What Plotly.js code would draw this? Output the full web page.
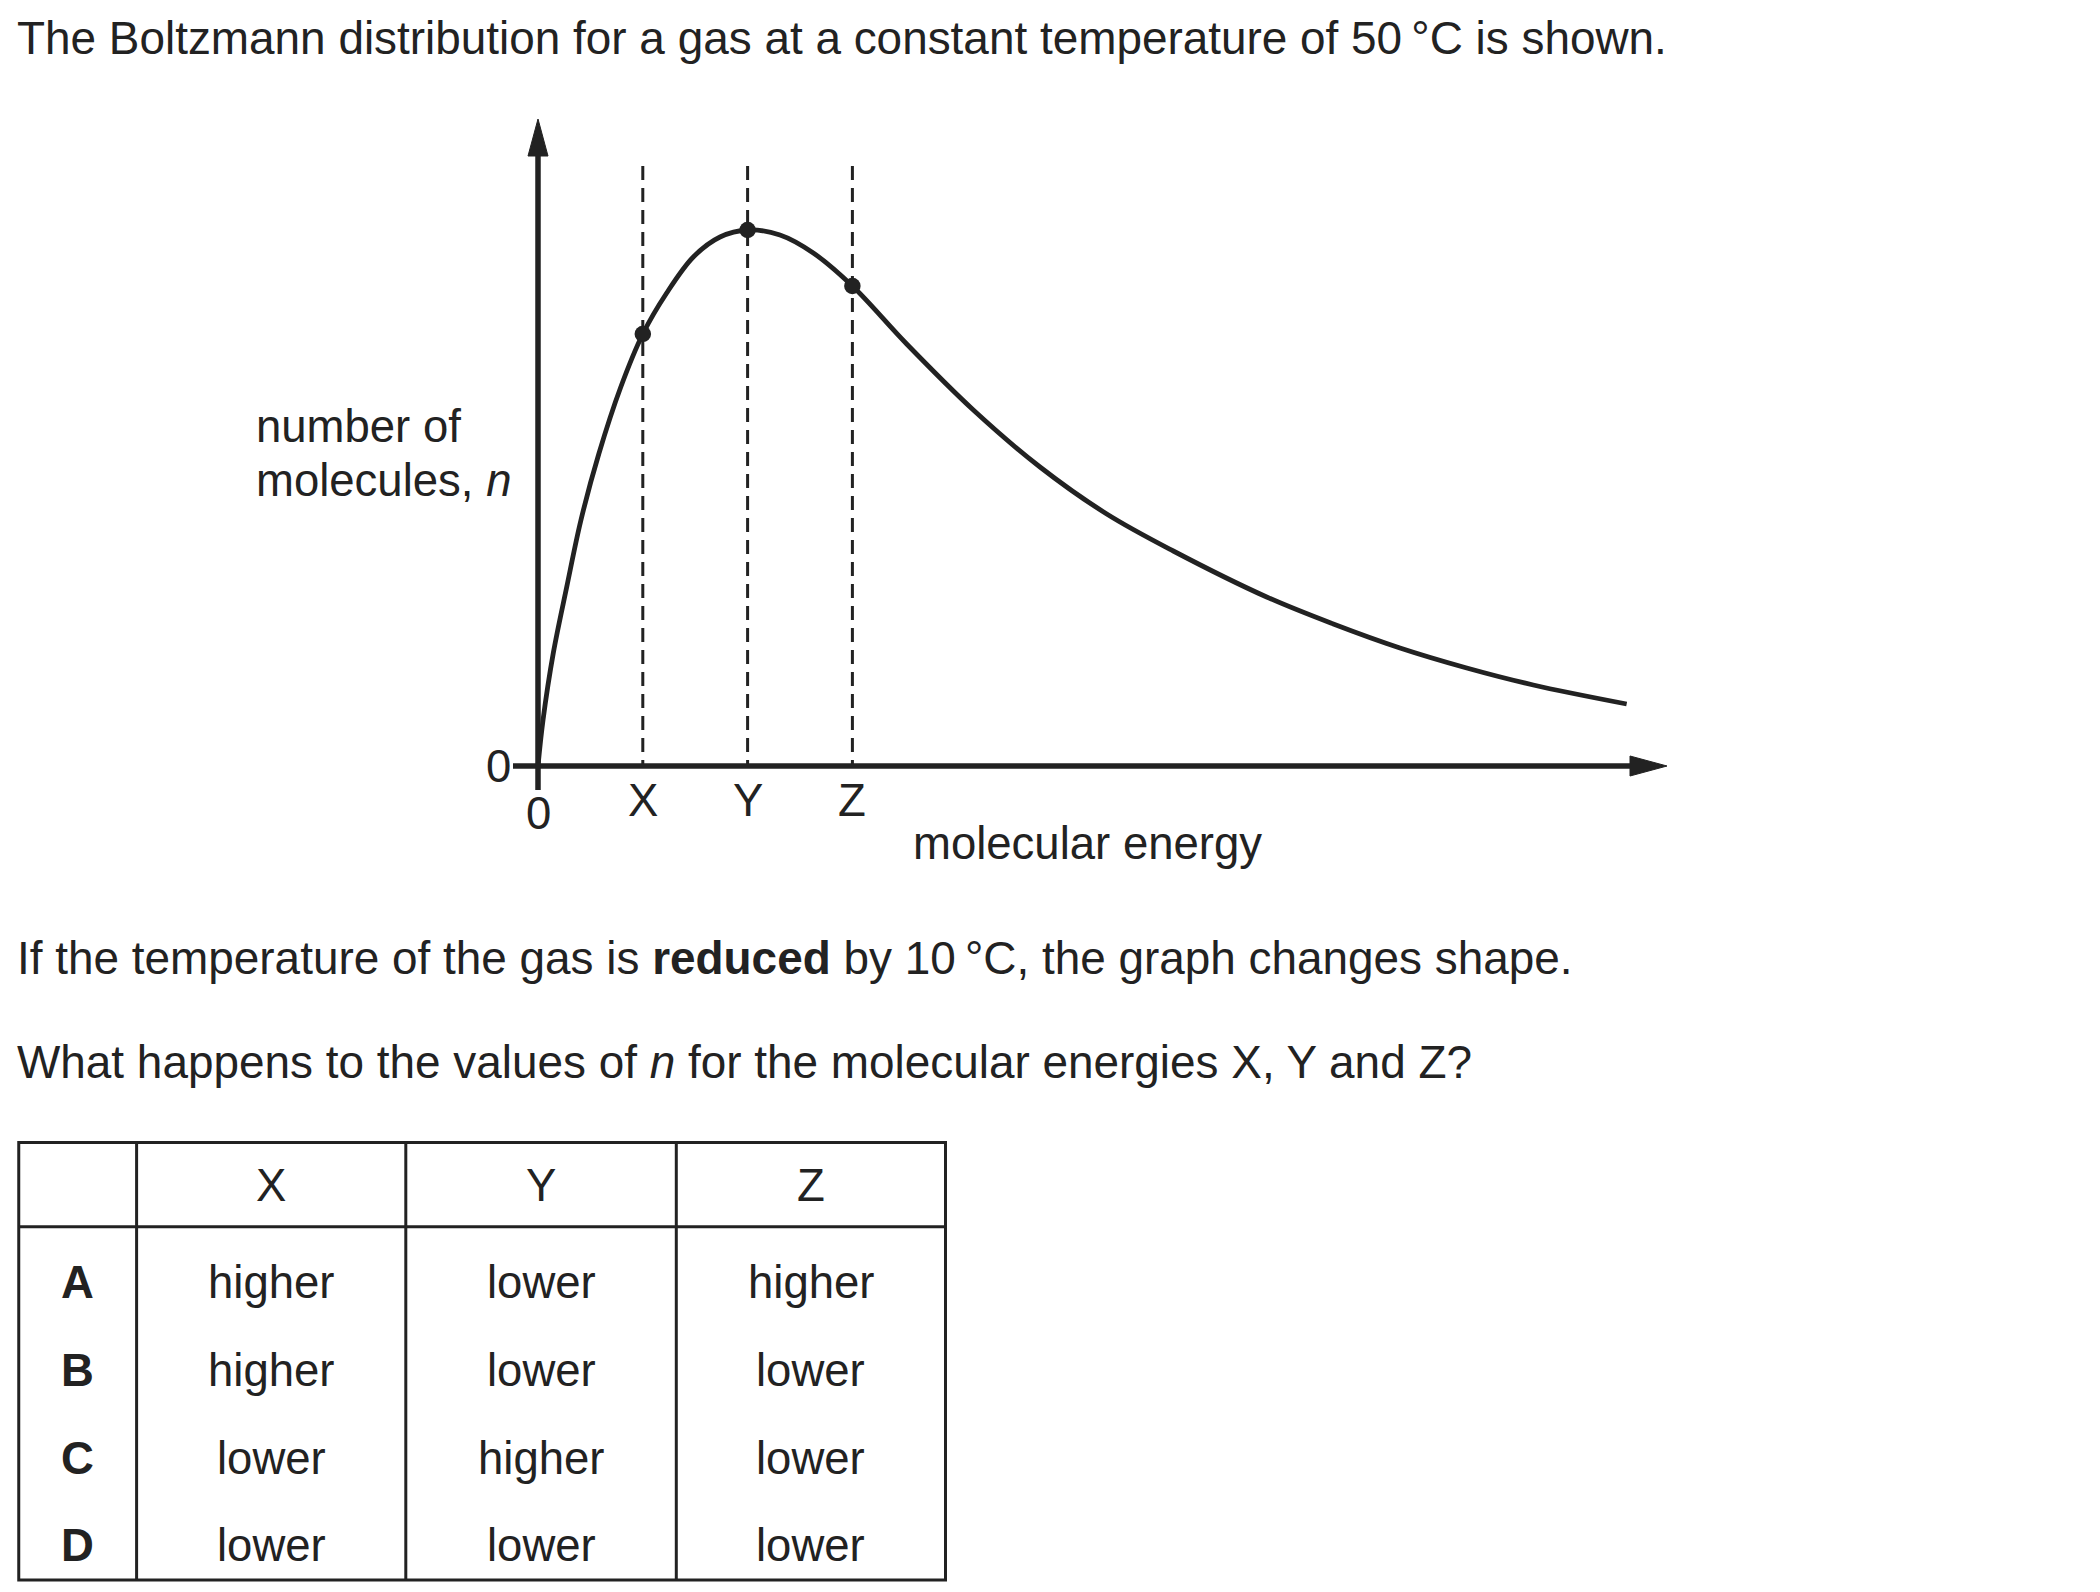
<!DOCTYPE html>
<html><head><meta charset="utf-8">
<script src="https://cdn.plot.ly/plotly-3.0.1.min.js"></script>
<style>html,body{margin:0;padding:0;background:#fff;}#chart{width:2100px;height:1592px;}</style>
</head><body><div id="chart"></div>
<script>
// ---------------- data ----------------
const energy    = [0, 0.048, 0.146, 0.274, 0.41, 0.58, 0.79, 1.0, 1.228, 1.482, 1.737, 2.0, 2.309, 2.627, 3.0, 3.518, 4.154, 4.790, 5.427, 6.062, 6.953, 7.589, 8.225, 8.862, 9.497, 10.388];
const molecules = [0, 0.46, 1.13, 1.79, 2.46, 3.12, 3.79, 4.32, 4.73, 5.09, 5.29, 5.36, 5.31, 5.13, 4.80, 4.22, 3.56, 2.99, 2.52, 2.15, 1.69, 1.42, 1.18, 0.98, 0.81, 0.62];
const markEnergy = [1, 2, 3];
const markN      = [4.32, 5.36, 4.80];
const markLabels = ['X', 'Y', 'Z'];
const dashTopN   = 6.0;
const xOriginLabel = '0';
const yOriginLabel = '0';
const yAxisLines = ['number of', 'molecules, <i>n</i>'];
const xAxisText  = 'molecular energy';
const titleText  = 'The Boltzmann distribution for a gas at a constant temperature of 50\u2009°C is shown.';
const question1  = 'If the temperature of the gas is <b>reduced</b> by 10\u2009°C, the graph changes shape.';
const question2  = 'What happens to the values of <i>n</i> for the molecular energies X, Y and Z?';
const tableHeader = ['', 'X', 'Y', 'Z'];
const tableRows   = ['A', 'B', 'C', 'D'];
const colX = ['higher', 'higher', 'lower', 'lower'];
const colY = ['lower', 'lower', 'higher', 'lower'];
const colZ = ['higher', 'lower', 'lower', 'lower'];

// ---------------- geometry / style ----------------
const W = 2100, H = 1592;
const X0 = 538, EPX = 104.8;   // pixel of energy 0, pixels per energy unit
const Y0 = 766, NPX = 100;     // pixel of n 0, pixels per n unit
const L = 495, R = 1700, T = 100, B = 810; // plot box in pixels
const INK = '#222';
const FAM = 'Liberation Sans, Arial, sans-serif';
const FONT = {family: FAM, size: 45.5, color: INK};
const FONT_P = {family: FAM, size: 45.9, color: INK};
const px = x => x / W;
const py = y => 1 - y / H;
const ex = p => (p - X0) / EPX;   // pixel -> energy
const ny = p => (Y0 - p) / NPX;   // pixel -> n

const traces = [];
// dashed guide lines
markEnergy.forEach(e => traces.push({
  x: [e, e], y: [dashTopN, 0], mode: 'lines', type: 'scatter',
  line: {color: INK, width: 3, dash: '14px,8px'}, hoverinfo: 'skip', showlegend: false
}));
// curve
traces.push({x: energy, y: molecules, mode: 'lines', type: 'scatter',
  line: {color: INK, width: 4.8, shape: 'spline', smoothing: 1}, showlegend: false});
// points
traces.push({x: markEnergy, y: markN, mode: 'markers', type: 'scatter',
  marker: {color: INK, size: 16.5}, showlegend: false, cliponaxis: false});

const shapes = [];
// axes drawn through the data scales
const axW = 5.5;
shapes.push({type: 'line', xref: 'x', yref: 'y', x0: ex(513), x1: ex(1632), y0: 0, y1: 0, line: {color: INK, width: axW}});
shapes.push({type: 'line', xref: 'x', yref: 'y', x0: 0, x1: 0, y0: ny(790), y1: ny(154), line: {color: INK, width: axW}});
const ahx = 10 / NPX, ahy = 10 / EPX;
shapes.push({type: 'path', xref: 'x', yref: 'y', fillcolor: INK, line: {color: INK, width: 1},
  path: `M ${ex(1630)},${-ahx} L ${ex(1667)},0 L ${ex(1630)},${ahx} Z`});
shapes.push({type: 'path', xref: 'x', yref: 'y', fillcolor: INK, line: {color: INK, width: 1},
  path: `M ${-ahy},${ny(156)} L 0,${ny(119)} L ${ahy},${ny(156)} Z`});

// table lines (paper = whole figure, margins are 0)
const tL = 18.75, tR = 945.5, tT = 1142.5, tHd = 1226.8, tB = 1580;
const colLines = [136.6, 405.8, 676.3];
const tLine = {color: INK, width: 3};
shapes.push({type: 'rect', xref: 'paper', yref: 'paper', x0: px(tL), x1: px(tR), y0: py(tT), y1: py(tB), line: tLine});
shapes.push({type: 'line', xref: 'paper', yref: 'paper', x0: px(tL), x1: px(tR), y0: py(tHd), y1: py(tHd), line: tLine});
colLines.forEach(c => shapes.push({type: 'line', xref: 'paper', yref: 'paper', x0: px(c), x1: px(c), y0: py(tT), y1: py(tB), line: tLine}));

const ann = [];
const A = (o) => Object.assign({showarrow: false, font: FONT}, o);
// axis labels
ann.push(A({text: yOriginLabel, xref: 'x', yref: 'y', x: 0, y: 0, xshift: -40, yshift: -0.7, xanchor: 'center', yanchor: 'middle'}));
ann.push(A({text: xOriginLabel, xref: 'x', yref: 'y', x: 0, y: 0, yshift: -47, xanchor: 'center', yanchor: 'middle'}));
markLabels.forEach((t, i) => ann.push(A({text: t, xref: 'x', yref: 'y', x: markEnergy[i], y: 0, yshift: -34.8, xanchor: 'center', yanchor: 'middle'})));
ann.push(A({text: xAxisText, xref: 'paper', yref: 'paper', x: px(911), y: py(843.5), xanchor: 'left', yanchor: 'middle'}));
ann.push(A({text: yAxisLines[0], xref: 'paper', yref: 'paper', x: px(254), y: py(426.5), xanchor: 'left', yanchor: 'middle'}));
ann.push(A({text: yAxisLines[1], xref: 'paper', yref: 'paper', x: px(254), y: py(481), xanchor: 'left', yanchor: 'middle'}));
// question text
ann.push(A({text: question1, font: FONT_P, xref: 'paper', yref: 'paper', x: px(15), y: py(957.6), xanchor: 'left', yanchor: 'middle'}));
ann.push(A({text: question2, font: FONT_P, xref: 'paper', yref: 'paper', x: px(15), y: py(1062), xanchor: 'left', yanchor: 'middle'}));
// table text
const colCenters = [(tL + colLines[0]) / 2, (colLines[0] + colLines[1]) / 2, (colLines[1] + colLines[2]) / 2, (colLines[2] + tR) / 2];
const rowCenters = [1282, 1370, 1458.5, 1545.6];
tableHeader.forEach((t, i) => { if (t) ann.push(A({text: t, xref: 'paper', yref: 'paper', x: px(colCenters[i]), y: py(1185), xanchor: 'center', yanchor: 'middle'})); });
const cols = [colX, colY, colZ];
tableRows.forEach((r, j) => {
  ann.push(A({text: '<b>' + r + '</b>', xref: 'paper', yref: 'paper', x: px(colCenters[0]), y: py(rowCenters[j]), xanchor: 'center', yanchor: 'middle'}));
  cols.forEach((c, i) => ann.push(A({text: c[j], xref: 'paper', yref: 'paper', x: px(colCenters[i + 1]), y: py(rowCenters[j]), xanchor: 'center', yanchor: 'middle'})));
});

const layout = {
  width: W, height: H,
  margin: {l: 0, r: 0, t: 0, b: 0, pad: 0},
  paper_bgcolor: '#fff', plot_bgcolor: '#fff',
  showlegend: false,
  title: {text: titleText, font: FONT_P, xref: 'container', yref: 'container', x: px(17), xanchor: 'left', y: py(37.5), yanchor: 'middle'},
  xaxis: {domain: [px(L), px(R)], range: [ex(L), ex(R)], visible: false, fixedrange: true},
  yaxis: {domain: [py(B), py(T)], range: [ny(B), ny(T)], visible: false, fixedrange: true},
  shapes: shapes,
  annotations: ann
};
Plotly.newPlot('chart', traces, layout, {displayModeBar: false, staticPlot: true});
</script>
</body></html>
